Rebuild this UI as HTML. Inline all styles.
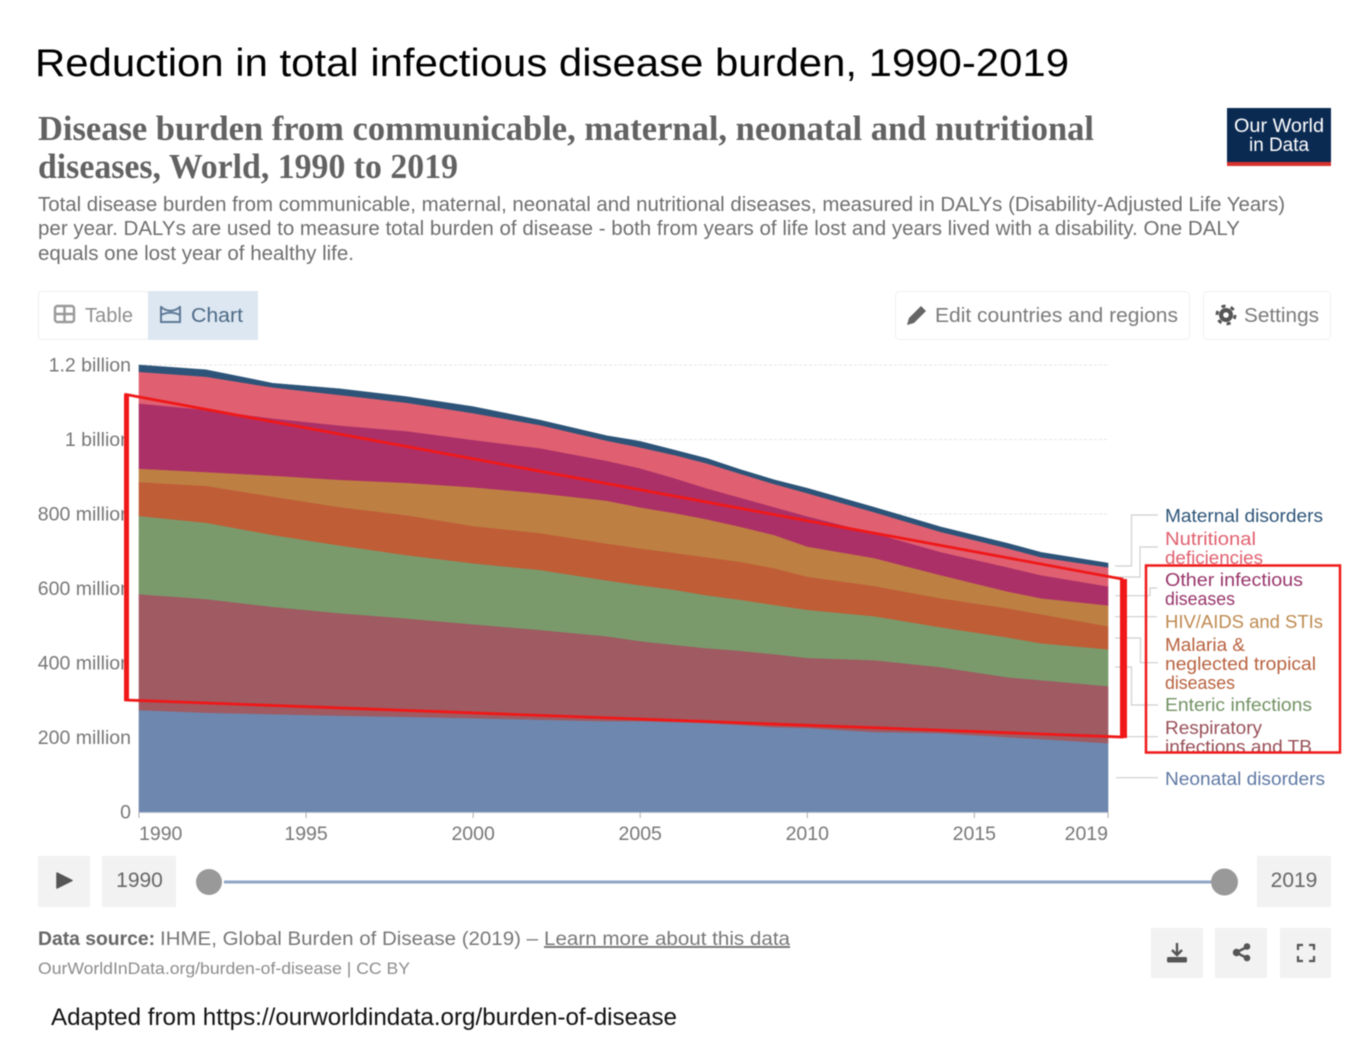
<!DOCTYPE html>
<html lang="en">
<head>
<meta charset="utf-8">
<title>Reduction in total infectious disease burden, 1990-2019</title>
<style>
  html, body { margin: 0; padding: 0; background: #fff; width: 1358px; height: 1064px; overflow: hidden; }
  svg { display: block; filter: blur(0.55px); font-family: "Liberation Sans", sans-serif; }
</style>
</head>
<body>
<svg id="canvas" width="1358" height="1064" viewBox="0 0 1358 1064" xmlns="http://www.w3.org/2000/svg">
  <defs>
    <clipPath id="clip-axis-labels"><rect x="0" y="394" width="124" height="306"/></clipPath>
    <clipPath id="clip-nutritional"><rect x="1160" y="525" width="180" height="40"/></clipPath>
    <clipPath id="clip-respiratory"><rect x="1160" y="715" width="178" height="37"/></clipPath>
  </defs>

  <text x="35" y="76" font-size="39" fill="#000" textLength="1034" lengthAdjust="spacingAndGlyphs">Reduction in total infectious disease burden, 1990-2019</text>

  <text x="38" y="140" font-family="Liberation Serif, serif" font-weight="bold" font-size="35" fill="#626262" textLength="1056" lengthAdjust="spacingAndGlyphs">Disease burden from communicable, maternal, neonatal and nutritional</text>
  <text x="38" y="178" font-family="Liberation Serif, serif" font-weight="bold" font-size="35" fill="#626262" textLength="420" lengthAdjust="spacingAndGlyphs">diseases, World, 1990 to 2019</text>

  <g>
    <rect x="1227" y="108" width="104" height="58" fill="#0b2a52"/>
    <rect x="1227" y="162" width="104" height="4" fill="#d6322e"/>
    <text x="1279" y="132" font-size="19" fill="#fff" text-anchor="middle" textLength="90" lengthAdjust="spacingAndGlyphs">Our World</text>
    <text x="1279" y="151" font-size="19" fill="#fff" text-anchor="middle" textLength="60" lengthAdjust="spacingAndGlyphs">in Data</text>
  </g>

  <g font-size="20" fill="#6f6f6f">
    <text x="38" y="211" textLength="1247" lengthAdjust="spacingAndGlyphs">Total disease burden from communicable, maternal, neonatal and nutritional diseases, measured in DALYs (Disability-Adjusted Life Years)</text>
    <text x="38" y="235" textLength="1202" lengthAdjust="spacingAndGlyphs">per year. DALYs are used to measure total burden of disease - both from years of life lost and years lived with a disability. One DALY</text>
    <text x="38" y="260" textLength="316" lengthAdjust="spacingAndGlyphs">equals one lost year of healthy life.</text>
  </g>

  <g>
    <rect x="38.5" y="291.5" width="110" height="48" rx="3" fill="#fff" stroke="#eeeeee"/>
    <g fill="none" stroke="#999" stroke-width="2.4">
      <rect x="55" y="306" width="19" height="16" rx="2.5"/>
      <path d="M55 314h19M64.500 306v16"/>
    </g>
    <text x="85" y="322" font-size="20" fill="#8f8f8f" textLength="48" lengthAdjust="spacingAndGlyphs">Table</text>
  </g>
  <g>
    <rect x="148" y="291" width="110" height="49" fill="#dde7f2"/>
    <g fill="none" stroke="#5d7a96" stroke-width="2">
      <path d="M161 306v16h19v-16"/>
      <path d="M161 307c6 5 13 5 19 0M161 315c6-3 13-3 19 0"/>
    </g>
    <text x="191" y="322" font-size="20" fill="#4d6a86" textLength="52" lengthAdjust="spacingAndGlyphs">Chart</text>
  </g>

  <g>
    <rect x="895.500" y="291.500" width="294" height="48" rx="4" fill="#fff" stroke="#f0f0f0"/>
    <path d="M907 325l2-7 12-12 5 5-12 12z" fill="#666"/>
    <text x="935" y="322" font-size="20" fill="#7b7b7b" textLength="243" lengthAdjust="spacingAndGlyphs">Edit countries and regions</text>
  </g>
  <g>
    <rect x="1203.500" y="291.500" width="127" height="48" rx="4" fill="#fff" stroke="#f0f0f0"/>
    <g>
      <circle cx="1226" cy="315" r="7" fill="#555"/>
      <circle cx="1226" cy="315" r="9" fill="none" stroke="#555" stroke-width="3" stroke-dasharray="4 5.400"/>
      <circle cx="1226" cy="315" r="2.800" fill="#fff"/>
    </g>
    <text x="1244" y="322" font-size="20" fill="#7b7b7b" textLength="75" lengthAdjust="spacingAndGlyphs">Settings</text>
  </g>

  <g id="grid-layer"></g>
  <g id="area-layer"></g>
  <g id="x-axis-layer"></g>
  <g id="y-axis-layer"></g>

  <g fill="none" stroke="#cfcfcf" stroke-width="1.200">
    <path d="M1115 566h16.500v-51h26.500"/>
    <path d="M1115 577h25v-30h18"/>
    <path d="M1115 595.700h35v-7.700h7"/>
    <path d="M1115 616.700h42"/>
    <path d="M1115 638h25.500v24.700h17.500"/>
    <path d="M1115 667h16.500v38h26.500"/>
    <path d="M1117 736.700h41"/>
    <path d="M1116 777.700h42"/>
  </g>

  <g font-size="18.500">
    <text x="1165" y="522" fill="#2d5478" textLength="158" lengthAdjust="spacingAndGlyphs">Maternal disorders</text>
    <g clip-path="url(#clip-nutritional)" fill="#e0606f">
      <text x="1165" y="545" textLength="91" lengthAdjust="spacingAndGlyphs">Nutritional</text>
      <text x="1165" y="564" textLength="98" lengthAdjust="spacingAndGlyphs">deficiencies</text>
    </g>
    <g fill="#98356a">
      <text x="1165" y="586" textLength="138" lengthAdjust="spacingAndGlyphs">Other infectious</text>
      <text x="1165" y="605" textLength="70" lengthAdjust="spacingAndGlyphs">diseases</text>
    </g>
    <text x="1165" y="628" fill="#be8a50" textLength="158" lengthAdjust="spacingAndGlyphs">HIV/AIDS and STIs</text>
    <g fill="#b8623f">
      <text x="1165" y="651" textLength="80" lengthAdjust="spacingAndGlyphs">Malaria &amp;</text>
      <text x="1165" y="670" textLength="151" lengthAdjust="spacingAndGlyphs">neglected tropical</text>
      <text x="1165" y="689" textLength="70" lengthAdjust="spacingAndGlyphs">diseases</text>
    </g>
    <text x="1165" y="711" fill="#739264" textLength="147" lengthAdjust="spacingAndGlyphs">Enteric infections</text>
    <g clip-path="url(#clip-respiratory)" fill="#985058">
      <text x="1165" y="734" textLength="97" lengthAdjust="spacingAndGlyphs">Respiratory</text>
      <text x="1165" y="753" textLength="147" lengthAdjust="spacingAndGlyphs">infections and TB</text>
    </g>
    <text x="1165" y="785" fill="#5e78a3" textLength="160" lengthAdjust="spacingAndGlyphs">Neonatal disorders</text>
  </g>

  <g>
    <path d="M126 394.500L1122 579V737L126 700Z" fill="none" stroke="#f01818" stroke-width="2.800"/>
    <path d="M126.500 394V701" fill="none" stroke="#f01818" stroke-width="5"/>
    <path d="M1123.500 579V738" fill="none" stroke="#f01818" stroke-width="7"/>
    <rect x="1146" y="565.500" width="194" height="187" fill="none" stroke="#f01818" stroke-width="2.500"/>
  </g>

  <g>
    <rect x="38" y="856" width="52" height="51" fill="#f2f2f2"/>
    <path d="M57 873L72 880.500L57 888Z" fill="#555" stroke="#555" stroke-width="1.500" stroke-linejoin="round"/>
  </g>
  <g>
    <rect x="102" y="856" width="74" height="51" fill="#f2f2f2"/>
    <text x="139.500" y="887" font-size="21" fill="#666" text-anchor="middle">1990</text>
  </g>
  <rect x="224" y="880.500" width="988" height="3" fill="#8fa6c6"/>
  <circle cx="209" cy="882" r="13" fill="#999"/>
  <circle cx="1224.500" cy="882" r="13.500" fill="#999"/>
  <g>
    <rect x="1257" y="856" width="74" height="51" fill="#f2f2f2"/>
    <text x="1294" y="887" font-size="21" fill="#666" text-anchor="middle">2019</text>
  </g>

  <text x="38" y="945" font-size="19.500" font-weight="bold" fill="#666" textLength="117" lengthAdjust="spacingAndGlyphs">Data source:</text>
  <text x="160" y="945" font-size="19.500" fill="#777" textLength="378" lengthAdjust="spacingAndGlyphs">IHME, Global Burden of Disease (2019) –</text>
  <text x="544" y="945" font-size="19.500" fill="#777" text-decoration="underline" textLength="246" lengthAdjust="spacingAndGlyphs">Learn more about this data</text>
  <text x="38" y="974" font-size="17" fill="#8c8c8c" textLength="372" lengthAdjust="spacingAndGlyphs">OurWorldInData.org/burden-of-disease | CC BY</text>

  <g>
    <rect x="1151" y="928" width="52" height="50" fill="#f2f2f2"/>
    <g>
      <path d="M1177 943v12M1172 950l5 5 5-5" fill="none" stroke="#555" stroke-width="2.400"/>
      <rect x="1167" y="957" width="20" height="5.500" rx="1.500" fill="#555"/>
    </g>
  </g>
  <g>
    <rect x="1215" y="928" width="52" height="50" fill="#f2f2f2"/>
    <g fill="#555" stroke="#555">
      <path d="M1236 952.500L1247 947M1236 952.500L1247 958" stroke-width="2.400" fill="none"/>
      <circle cx="1236.500" cy="952.500" r="3.200"/>
      <circle cx="1247" cy="946.500" r="2.800"/>
      <circle cx="1247" cy="958" r="2.800"/>
    </g>
  </g>
  <g>
    <rect x="1280" y="928" width="51" height="50" fill="#f2f2f2"/>
    <path d="M1298 950v-5h5M1309 945h5v5M1314 956v5h-5M1303 961h-5v-5" fill="none" stroke="#555" stroke-width="2.200"/>
  </g>

  <text x="51" y="1025" font-size="24" fill="#111" textLength="626" lengthAdjust="spacingAndGlyphs">Adapted from https://ourworldindata.org/burden-of-disease</text>
</svg>

<script>
const years = [1990,1992,1994,1996,1998,2000,2002,2004,2005,2006,2007,2008,2009,2010,2012,2014,2016,2017,2019];
const neonatal = [274,267,263,259,256,252,248,244,244,242,239,234,228,226,215,212,201,196,185];
const respiratory = [311,305,288,275,264,252,241,228,215,207,201,199,196,188,193,177,161,158,153];
const enteric = [210,205,193,182,170,164,161,150,150,148,142,137,132,129,118,107,107,99,99];
const malaria = [91,99,103,103,107,100,99,99,99,99,102,102,99,89,81,78,78,78,62];
const hiv = [36,37,56,73,87,104,107,115,110,107,102,94,89,81,75,62,45,43,56];
const otherInfectious = [175,167,154,146,139,127,121,107,105,94,83,78,75,81,67,62,65,62,51];
const nutritional = [85,89,83,82,76,72,62,54,56,62,67,64,62,62,56,54,51,48,51];
const maternal = [18,18,11,16,16,17,13,13,16,13,13,11,11,13,13,13,13,13,11];

const seriesOrder = [neonatal, respiratory, enteric, malaria, hiv, otherInfectious, nutritional, maternal];
const seriesKeys = ['neonatal','respiratory','enteric','malaria','hiv','other-infectious','nutritional','maternal'];
const seriesColors = ['#6e87ae','#9f5a62','#7a9a6b','#bf5d37','#be8042','#ac3068','#e06072','#2d5478'];

const yTickValues = [0,200,400,600,800,1000,1200];
const yTickLabels = ['0','200 million','400 million','600 million','800 million','1 billion','1.2 billion'];
const xTickYears = [1990,1995,2000,2005,2010,2015,2019];

const SVG_NS = 'http://www.w3.org/2000/svg';
const plot = { left: 139, right: 1108, top: 365, bottom: 812 };
const xDomain = [1990, 2019];
const yDomain = [0, 1200];

function xScale(year) {
  return plot.left + (year - xDomain[0]) / (xDomain[1] - xDomain[0]) * (plot.right - plot.left);
}
function yScale(value) {
  return plot.bottom - (value - yDomain[0]) / (yDomain[1] - yDomain[0]) * (plot.bottom - plot.top);
}

const gridLayer = document.getElementById('grid-layer');
const areaLayer = document.getElementById('area-layer');
const xAxisLayer = document.getElementById('x-axis-layer');
const yAxisLayer = document.getElementById('y-axis-layer');

yTickValues.forEach(function (value, i) {
  const y = yScale(value);
  if (value > 0) {
    const line = document.createElementNS(SVG_NS, 'line');
    line.setAttribute('x1', plot.left);
    line.setAttribute('x2', plot.right);
    line.setAttribute('y1', y);
    line.setAttribute('y2', y);
    line.setAttribute('stroke', '#e4e4e4');
    line.setAttribute('stroke-dasharray', '3 2');
    
    
    gridLayer.appendChild(line);
  }
  const label = document.createElementNS(SVG_NS, 'text');
  label.setAttribute('x', 131);
  label.setAttribute('y', y + 6.5);
  label.setAttribute('font-size', '19.5');
  label.setAttribute('fill', '#777');
  label.setAttribute('text-anchor', 'end');
  if (y > 394 && y < 700) {
    label.setAttribute('clip-path', 'url(#clip-axis-labels)');
  }
  label.textContent = yTickLabels[i];
  
  
  yAxisLayer.appendChild(label);
});

const cumulative = years.map(function () { return 0; });
seriesOrder.forEach(function (series, s) {
  const lower = cumulative.slice();
  series.forEach(function (v, i) { cumulative[i] += v; });
  let d = '';
  years.forEach(function (yr, i) {
    d += (i === 0 ? 'M' : 'L') + xScale(yr).toFixed(2) + ' ' + yScale(cumulative[i]).toFixed(2);
  });
  for (let i = years.length - 1; i >= 0; i--) {
    d += 'L' + xScale(years[i]).toFixed(2) + ' ' + yScale(lower[i]).toFixed(2);
  }
  d += 'Z';
  const area = document.createElementNS(SVG_NS, 'path');
  area.setAttribute('d', d);
  area.setAttribute('fill', seriesColors[s]);
  area.setAttribute('stroke', seriesColors[s]);
  area.setAttribute('stroke-width', '0.6');
  
  
  areaLayer.appendChild(area);
});

const baseline = document.createElementNS(SVG_NS, 'line');
baseline.setAttribute('x1', plot.left);
baseline.setAttribute('x2', plot.right);
baseline.setAttribute('y1', plot.bottom + 0.5);
baseline.setAttribute('y2', plot.bottom + 0.5);
baseline.setAttribute('stroke', '#b9c4d4');


xAxisLayer.appendChild(baseline);

xTickYears.forEach(function (yr, i) {
  const x = xScale(yr);
  const tick = document.createElementNS(SVG_NS, 'line');
  tick.setAttribute('x1', x);
  tick.setAttribute('x2', x);
  tick.setAttribute('y1', plot.bottom);
  tick.setAttribute('y2', plot.bottom + 6);
  tick.setAttribute('stroke', '#aaa');
  
  
  xAxisLayer.appendChild(tick);

  const label = document.createElementNS(SVG_NS, 'text');
  label.setAttribute('x', x);
  label.setAttribute('y', 840);
  label.setAttribute('font-size', '19.5');
  label.setAttribute('fill', '#777');
  label.setAttribute('text-anchor', i === 0 ? 'start' : (i === xTickYears.length - 1 ? 'end' : 'middle'));
  label.textContent = String(yr);
  
  
  xAxisLayer.appendChild(label);
});
</script>
</body>
</html>
